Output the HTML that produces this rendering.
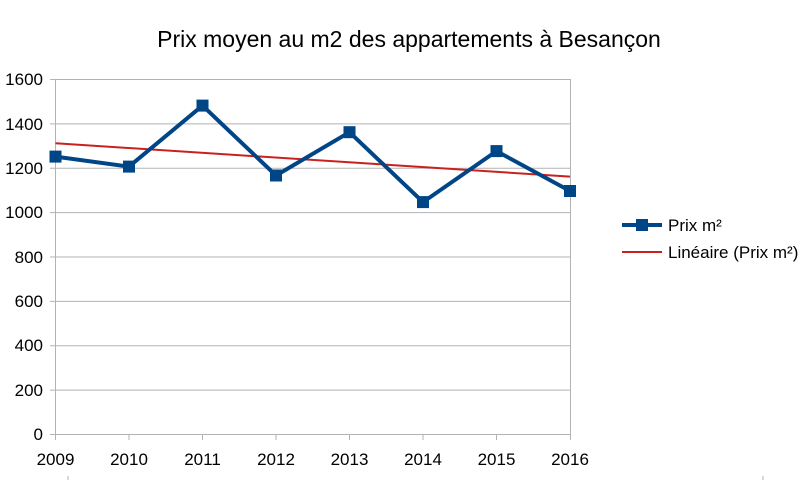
<!DOCTYPE html>
<html><head><meta charset="utf-8"><style>
html,body{margin:0;padding:0;background:#fff;}
svg{display:block;font-family:"Liberation Sans",sans-serif;}
</style></head><body>
<svg width="810" height="480" viewBox="0 0 810 480">
<rect width="810" height="480" fill="#fff"/>
<text x="409" y="47" font-size="23" text-anchor="middle" fill="#000">Prix moyen au m2 des appartements à Besançon</text>
<g stroke="#b3b3b3" stroke-width="1">
<line x1="50" x2="570" y1="79.5" y2="79.5"/>
<line x1="50" x2="570" y1="123.9" y2="123.9"/>
<line x1="50" x2="570" y1="168.3" y2="168.3"/>
<line x1="50" x2="570" y1="212.6" y2="212.6"/>
<line x1="50" x2="570" y1="257" y2="257"/>
<line x1="50" x2="570" y1="301.4" y2="301.4"/>
<line x1="50" x2="570" y1="345.8" y2="345.8"/>
<line x1="50" x2="570" y1="390.1" y2="390.1"/>
<line x1="50" x2="570" y1="434.5" y2="434.5"/>
<line x1="55.5" x2="55.5" y1="79" y2="440"/>
<line x1="570.5" x2="570.5" y1="79" y2="440"/>
<line x1="129" x2="129" y1="434" y2="440"/>
<line x1="202.5" x2="202.5" y1="434" y2="440"/>
<line x1="276" x2="276" y1="434" y2="440"/>
<line x1="349.5" x2="349.5" y1="434" y2="440"/>
<line x1="423" x2="423" y1="434" y2="440"/>
<line x1="496.5" x2="496.5" y1="434" y2="440"/>
<line x1="68" x2="68" y1="476" y2="480"/>
<line x1="763" x2="763" y1="476" y2="480"/>
</g>
<g font-size="17" text-anchor="end" fill="#000">
<text x="43" y="85">1600</text><text x="43" y="130">1400</text><text x="43" y="174">1200</text>
<text x="43" y="218">1000</text><text x="43" y="263">800</text><text x="43" y="307">600</text>
<text x="43" y="351">400</text><text x="43" y="396">200</text><text x="43" y="440">0</text>
</g>
<g font-size="17" text-anchor="middle" fill="#000">
<text x="55.5" y="465">2009</text><text x="129" y="465">2010</text><text x="202.5" y="465">2011</text>
<text x="276" y="465">2012</text><text x="349.5" y="465">2013</text><text x="423" y="465">2014</text>
<text x="496.5" y="465">2015</text><text x="570" y="465">2016</text>
</g>
<line x1="55.5" y1="143.3" x2="570" y2="176.6" stroke="#c9211e" stroke-width="2"/>
<polyline fill="none" stroke="#004586" stroke-width="4" stroke-linejoin="round" points="55.5,156.6 129,166.6 202.5,105.6 276,175.5 349.5,132.2 423,202.1 496.5,151.1 570,191"/>
<g fill="#004586">
<rect x="49.5" y="150.6" width="12" height="12"/><rect x="123" y="160.6" width="12" height="12"/>
<rect x="196.5" y="99.6" width="12" height="12"/><rect x="270" y="169.5" width="12" height="12"/>
<rect x="343.5" y="126.2" width="12" height="12"/><rect x="417" y="196.1" width="12" height="12"/>
<rect x="490.5" y="145.1" width="12" height="12"/><rect x="564" y="185" width="12" height="12"/>
</g>
<line x1="622" y1="225" x2="662" y2="225" stroke="#004586" stroke-width="4"/>
<rect x="636" y="219" width="12" height="12" fill="#004586"/>
<text x="668" y="231" font-size="17">Prix m²</text>
<line x1="622" y1="252" x2="662" y2="252" stroke="#c9211e" stroke-width="2"/>
<text x="668" y="258" font-size="17">Linéaire (Prix m²)</text>
</svg>
</body></html>
